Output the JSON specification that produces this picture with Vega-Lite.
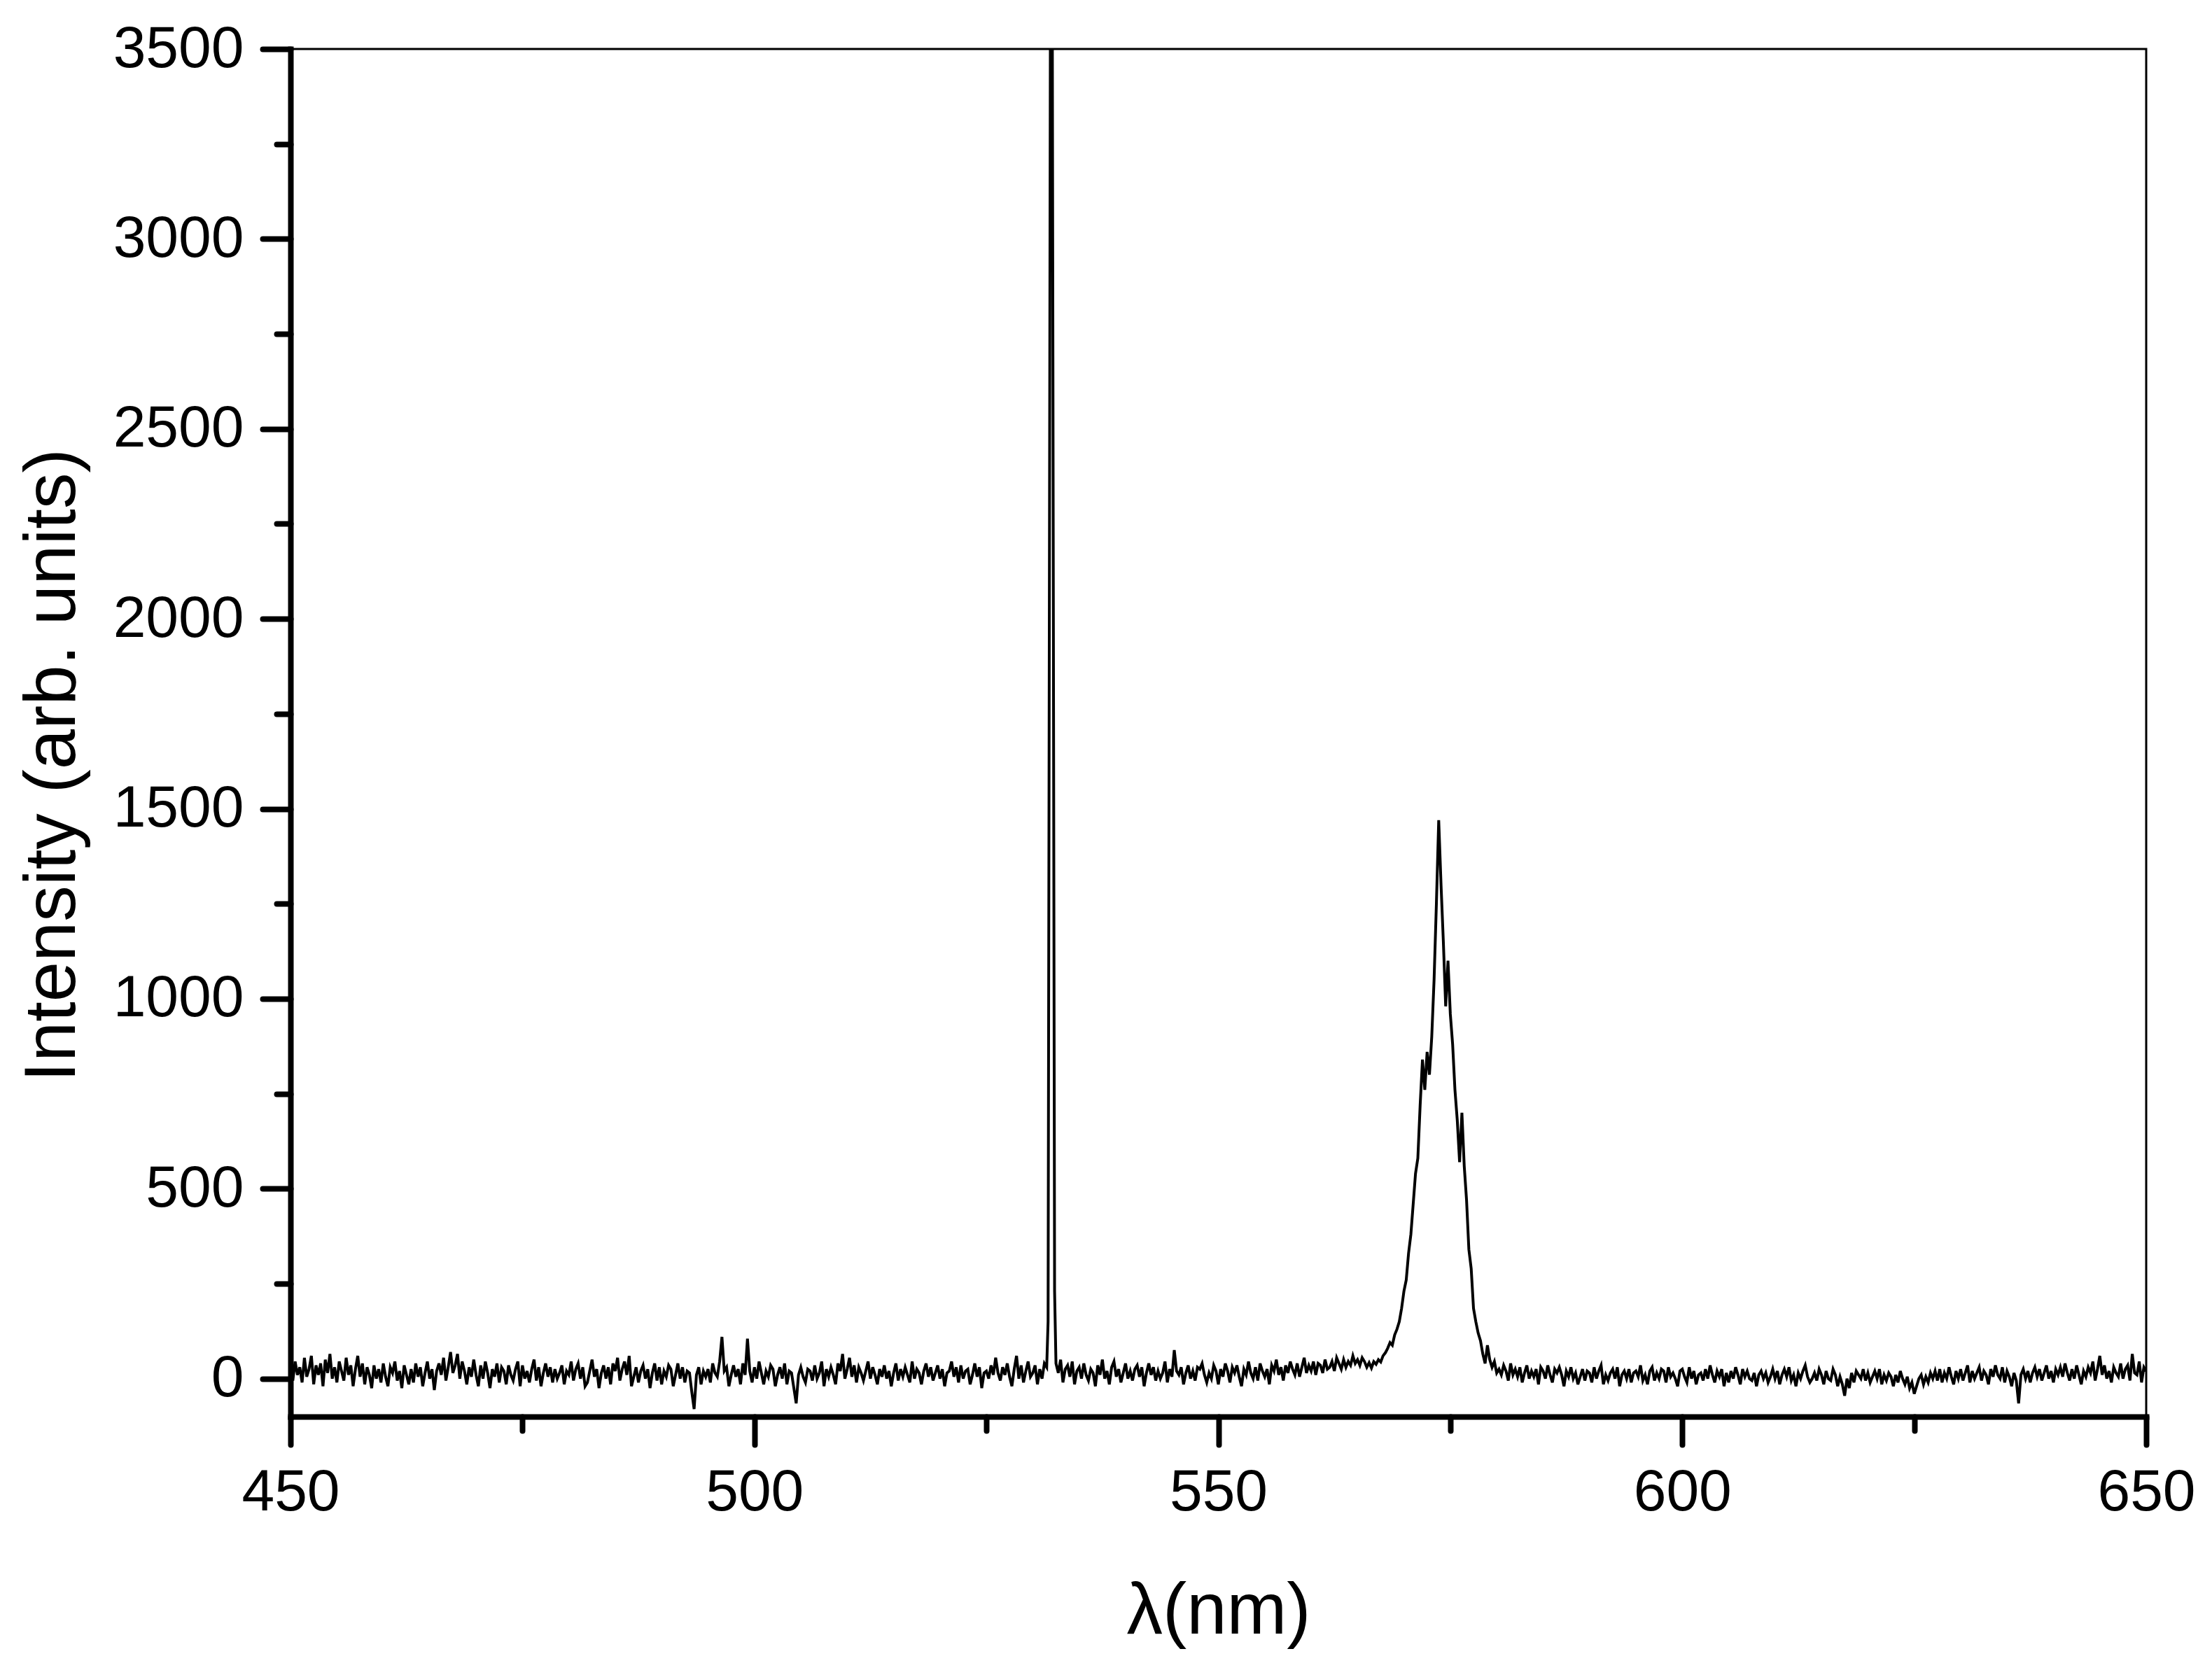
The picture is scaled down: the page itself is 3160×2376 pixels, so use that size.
{
"$schema": "https://vega.github.io/schema/vega-lite/v6.json",
"width": 2651, "height": 1954,
"autosize": "none",
"padding": {"left": 415, "top": 70, "right": 94, "bottom": 352},
"background": "white",
"config": {"view": {"stroke": "black", "strokeWidth": 3}},
"data": {"values": [
{"x":450,"y":20},{"x":450.25,"y":-5},{"x":450.5,"y":45},{"x":450.75,"y":10},
{"x":451,"y":30},{"x":451.25,"y":-10},{"x":451.5,"y":55},{"x":451.75,"y":5},
{"x":452,"y":25},{"x":452.25,"y":60},{"x":452.5,"y":-15},{"x":452.75,"y":35},
{"x":453,"y":10},{"x":453.25,"y":40},{"x":453.5,"y":-20},{"x":453.75,"y":50},
{"x":454,"y":15},{"x":454.25,"y":65},{"x":454.5,"y":0},{"x":454.75,"y":30},
{"x":455,"y":-10},{"x":455.25,"y":45},{"x":455.5,"y":20},{"x":455.75,"y":-5},
{"x":456,"y":55},{"x":456.25,"y":10},{"x":456.5,"y":35},{"x":456.75,"y":-20},
{"x":457,"y":25},{"x":457.25,"y":60},{"x":457.5,"y":5},{"x":457.75,"y":40},
{"x":458,"y":-15},{"x":458.25,"y":30},{"x":458.5,"y":10},{"x":458.75,"y":-25},
{"x":459,"y":35},{"x":459.25,"y":0},{"x":459.5,"y":25},{"x":459.75,"y":-10},
{"x":460,"y":40},{"x":460.25,"y":5},{"x":460.5,"y":-20},{"x":460.75,"y":30},
{"x":461,"y":15},{"x":461.25,"y":45},{"x":461.5,"y":-5},{"x":461.75,"y":20},
{"x":462,"y":-25},{"x":462.25,"y":35},{"x":462.5,"y":10},{"x":462.75,"y":-15},
{"x":463,"y":25},{"x":463.25,"y":-10},{"x":463.5,"y":40},{"x":463.75,"y":5},
{"x":464,"y":30},{"x":464.25,"y":-20},{"x":464.5,"y":15},{"x":464.75,"y":45},
{"x":465,"y":0},{"x":465.25,"y":25},{"x":465.5,"y":-30},{"x":465.75,"y":20},
{"x":466,"y":40},{"x":466.25,"y":10},{"x":466.5,"y":55},{"x":466.75,"y":-5},
{"x":467,"y":30},{"x":467.25,"y":70},{"x":467.5,"y":15},{"x":467.75,"y":35},
{"x":468,"y":65},{"x":468.25,"y":0},{"x":468.5,"y":45},{"x":468.75,"y":20},
{"x":469,"y":-15},{"x":469.25,"y":30},{"x":469.5,"y":5},{"x":469.75,"y":50},
{"x":470,"y":10},{"x":470.25,"y":-20},{"x":470.5,"y":35},{"x":470.75,"y":0},
{"x":471,"y":45},{"x":471.25,"y":15},{"x":471.5,"y":-25},{"x":471.75,"y":25},
{"x":472,"y":5},{"x":472.25,"y":40},{"x":472.5,"y":-10},{"x":472.75,"y":30},
{"x":473,"y":20},{"x":473.25,"y":-15},{"x":473.5,"y":35},{"x":473.75,"y":10},
{"x":474,"y":-5},{"x":474.25,"y":25},{"x":474.5,"y":45},{"x":474.75,"y":-20},
{"x":475,"y":35},{"x":475.25,"y":0},{"x":475.5,"y":20},{"x":475.75,"y":-10},
{"x":476,"y":25},{"x":476.25,"y":50},{"x":476.5,"y":-5},{"x":476.75,"y":30},
{"x":477,"y":-20},{"x":477.25,"y":15},{"x":477.5,"y":40},{"x":477.75,"y":5},
{"x":478,"y":30},{"x":478.25,"y":-10},{"x":478.5,"y":25},{"x":478.75,"y":0},
{"x":479,"y":15},{"x":479.25,"y":35},{"x":479.5,"y":-15},{"x":479.75,"y":20},
{"x":480,"y":10},{"x":480.25,"y":45},{"x":480.5,"y":-5},{"x":480.75,"y":25},
{"x":481,"y":40},{"x":481.25,"y":0},{"x":481.5,"y":30},{"x":481.75,"y":-20},
{"x":482,"y":-10},{"x":482.25,"y":20},{"x":482.5,"y":50},{"x":482.75,"y":5},
{"x":483,"y":25},{"x":483.25,"y":-25},{"x":483.5,"y":15},{"x":483.75,"y":35},
{"x":484,"y":0},{"x":484.25,"y":30},{"x":484.5,"y":-15},{"x":484.75,"y":40},
{"x":485,"y":20},{"x":485.25,"y":55},{"x":485.5,"y":-5},{"x":485.75,"y":25},
{"x":486,"y":45},{"x":486.25,"y":10},{"x":486.5,"y":60},{"x":486.75,"y":-20},
{"x":487,"y":5},{"x":487.25,"y":30},{"x":487.5,"y":-10},{"x":487.75,"y":20},
{"x":488,"y":35},{"x":488.25,"y":0},{"x":488.5,"y":25},{"x":488.75,"y":-25},
{"x":489,"y":15},{"x":489.25,"y":40},{"x":489.5,"y":-5},{"x":489.75,"y":30},
{"x":490,"y":-15},{"x":490.25,"y":20},{"x":490.5,"y":5},{"x":490.75,"y":35},
{"x":491,"y":25},{"x":491.25,"y":-20},{"x":491.5,"y":10},{"x":491.75,"y":40},
{"x":492,"y":0},{"x":492.25,"y":30},{"x":492.5,"y":-10},{"x":492.75,"y":20},
{"x":493,"y":15},{"x":493.25,"y":-35},{"x":493.5,"y":-80},{"x":493.75,"y":10},
{"x":494,"y":30},{"x":494.25,"y":-15},{"x":494.5,"y":20},{"x":494.75,"y":5},
{"x":495,"y":25},{"x":495.25,"y":-10},{"x":495.5,"y":40},{"x":495.75,"y":15},
{"x":496,"y":5},{"x":496.25,"y":45},{"x":496.5,"y":110},{"x":496.75,"y":20},
{"x":497,"y":30},{"x":497.25,"y":-20},{"x":497.5,"y":10},{"x":497.75,"y":35},
{"x":498,"y":5},{"x":498.25,"y":25},{"x":498.5,"y":-15},{"x":498.75,"y":40},
{"x":499,"y":10},{"x":499.25,"y":105},{"x":499.5,"y":20},{"x":499.75,"y":-10},
{"x":500,"y":30},{"x":500.25,"y":0},{"x":500.5,"y":45},{"x":500.75,"y":15},
{"x":501,"y":-15},{"x":501.25,"y":20},{"x":501.5,"y":5},{"x":501.75,"y":35},
{"x":502,"y":25},{"x":502.25,"y":-20},{"x":502.5,"y":10},{"x":502.75,"y":30},
{"x":503,"y":0},{"x":503.25,"y":40},{"x":503.5,"y":-15},{"x":503.75,"y":20},
{"x":504,"y":15},{"x":504.25,"y":-25},{"x":504.5,"y":-65},{"x":504.75,"y":10},
{"x":505,"y":30},{"x":505.25,"y":5},{"x":505.5,"y":-10},{"x":505.75,"y":25},
{"x":506,"y":20},{"x":506.25,"y":-5},{"x":506.5,"y":35},{"x":506.75,"y":0},
{"x":507,"y":15},{"x":507.25,"y":45},{"x":507.5,"y":-20},{"x":507.75,"y":25},
{"x":508,"y":5},{"x":508.25,"y":30},{"x":508.5,"y":10},{"x":508.75,"y":-15},
{"x":509,"y":40},{"x":509.25,"y":20},{"x":509.5,"y":65},{"x":509.75,"y":0},
{"x":510,"y":25},{"x":510.25,"y":55},{"x":510.5,"y":5},{"x":510.75,"y":35},
{"x":511,"y":-10},{"x":511.25,"y":30},{"x":511.5,"y":15},{"x":511.75,"y":-5},
{"x":512,"y":20},{"x":512.25,"y":45},{"x":512.5,"y":0},{"x":512.75,"y":30},
{"x":513,"y":10},{"x":513.25,"y":-15},{"x":513.5,"y":25},{"x":513.75,"y":5},
{"x":514,"y":35},{"x":514.25,"y":0},{"x":514.5,"y":20},{"x":514.75,"y":-20},
{"x":515,"y":15},{"x":515.25,"y":40},{"x":515.5,"y":-5},{"x":515.75,"y":25},
{"x":516,"y":5},{"x":516.25,"y":30},{"x":516.5,"y":10},{"x":516.75,"y":-10},
{"x":517,"y":45},{"x":517.25,"y":0},{"x":517.5,"y":25},{"x":517.75,"y":15},
{"x":518,"y":-15},{"x":518.25,"y":20},{"x":518.5,"y":40},{"x":518.75,"y":5},
{"x":519,"y":30},{"x":519.25,"y":-5},{"x":519.5,"y":15},{"x":519.75,"y":35},
{"x":520,"y":0},{"x":520.25,"y":25},{"x":520.5,"y":-20},{"x":520.75,"y":15},
{"x":521,"y":20},{"x":521.25,"y":45},{"x":521.5,"y":5},{"x":521.75,"y":30},
{"x":522,"y":-10},{"x":522.25,"y":35},{"x":522.5,"y":0},{"x":522.75,"y":20},
{"x":523,"y":25},{"x":523.25,"y":-15},{"x":523.5,"y":10},{"x":523.75,"y":40},
{"x":524,"y":5},{"x":524.25,"y":30},{"x":524.5,"y":-25},{"x":524.75,"y":15},
{"x":525,"y":20},{"x":525.25,"y":0},{"x":525.5,"y":35},{"x":525.75,"y":10},
{"x":526,"y":55},{"x":526.25,"y":15},{"x":526.5,"y":-5},{"x":526.75,"y":30},
{"x":527,"y":10},{"x":527.25,"y":40},{"x":527.5,"y":5},{"x":527.75,"y":-20},
{"x":528,"y":25},{"x":528.25,"y":60},{"x":528.5,"y":0},{"x":528.75,"y":35},
{"x":529,"y":-10},{"x":529.25,"y":20},{"x":529.5,"y":45},{"x":529.75,"y":5},
{"x":530,"y":15},{"x":530.25,"y":35},{"x":530.5,"y":-15},{"x":530.75,"y":25},
{"x":531,"y":0},{"x":531.25,"y":40},{"x":531.5,"y":30},{"x":531.65,"y":150},
{"x":532,"y":5000},{"x":532.35,"y":230},{"x":532.5,"y":40},{"x":532.75,"y":15},
{"x":533,"y":50},{"x":533.25,"y":-10},{"x":533.5,"y":25},{"x":533.75,"y":35},
{"x":534,"y":5},{"x":534.25,"y":45},{"x":534.5,"y":-15},{"x":534.75,"y":20},
{"x":535,"y":30},{"x":535.25,"y":0},{"x":535.5,"y":40},{"x":535.75,"y":10},
{"x":536,"y":-5},{"x":536.25,"y":25},{"x":536.5,"y":15},{"x":536.75,"y":-20},
{"x":537,"y":35},{"x":537.25,"y":10},{"x":537.5,"y":50},{"x":537.75,"y":0},
{"x":538,"y":20},{"x":538.25,"y":-15},{"x":538.5,"y":30},{"x":538.75,"y":45},
{"x":539,"y":5},{"x":539.25,"y":25},{"x":539.5,"y":-10},{"x":539.75,"y":15},
{"x":540,"y":40},{"x":540.25,"y":0},{"x":540.5,"y":20},{"x":540.75,"y":-5},
{"x":541,"y":25},{"x":541.25,"y":35},{"x":541.5,"y":5},{"x":541.75,"y":30},
{"x":542,"y":-20},{"x":542.25,"y":15},{"x":542.5,"y":40},{"x":542.75,"y":10},
{"x":543,"y":30},{"x":543.25,"y":-5},{"x":543.5,"y":20},{"x":543.75,"y":0},
{"x":544,"y":15},{"x":544.25,"y":45},{"x":544.5,"y":-10},{"x":544.75,"y":25},
{"x":545,"y":5},{"x":545.25,"y":75},{"x":545.5,"y":20},{"x":545.75,"y":10},
{"x":546,"y":30},{"x":546.25,"y":-15},{"x":546.5,"y":15},{"x":546.75,"y":35},
{"x":547,"y":0},{"x":547.25,"y":20},{"x":547.5,"y":-5},{"x":547.75,"y":30},
{"x":548,"y":25},{"x":548.25,"y":40},{"x":548.5,"y":10},{"x":548.75,"y":-10},
{"x":549,"y":15},{"x":549.25,"y":0},{"x":549.5,"y":35},{"x":549.75,"y":20},
{"x":550,"y":-15},{"x":550.25,"y":25},{"x":550.5,"y":5},{"x":550.75,"y":40},
{"x":551,"y":20},{"x":551.25,"y":-10},{"x":551.5,"y":30},{"x":551.75,"y":15},
{"x":552,"y":35},{"x":552.25,"y":5},{"x":552.5,"y":-20},{"x":552.75,"y":25},
{"x":553,"y":10},{"x":553.25,"y":45},{"x":553.5,"y":15},{"x":553.75,"y":0},
{"x":554,"y":30},{"x":554.25,"y":-5},{"x":554.5,"y":40},{"x":554.75,"y":20},
{"x":555,"y":5},{"x":555.25,"y":25},{"x":555.5,"y":-15},{"x":555.75,"y":35},
{"x":556,"y":20},{"x":556.25,"y":50},{"x":556.5,"y":10},{"x":556.75,"y":30},
{"x":557,"y":-5},{"x":557.25,"y":35},{"x":557.5,"y":15},{"x":557.75,"y":45},
{"x":558,"y":25},{"x":558.25,"y":10},{"x":558.5,"y":40},{"x":558.75,"y":5},
{"x":559,"y":30},{"x":559.25,"y":55},{"x":559.5,"y":15},{"x":559.75,"y":35},
{"x":560,"y":20},{"x":560.25,"y":45},{"x":560.5,"y":10},{"x":560.75,"y":40},
{"x":561,"y":35},{"x":561.25,"y":15},{"x":561.5,"y":50},{"x":561.75,"y":25},
{"x":562,"y":30},{"x":562.25,"y":45},{"x":562.5,"y":20},{"x":562.75,"y":55},
{"x":563,"y":40},{"x":563.25,"y":25},{"x":563.5,"y":50},{"x":563.75,"y":30},
{"x":564,"y":45},{"x":564.25,"y":35},{"x":564.5,"y":60},{"x":564.75,"y":40},
{"x":565,"y":50},{"x":565.25,"y":35},{"x":565.5,"y":55},{"x":565.75,"y":45},
{"x":566,"y":30},{"x":566.25,"y":42},{"x":566.5,"y":28},{"x":566.75,"y":45},
{"x":567,"y":38},{"x":567.25,"y":50},{"x":567.5,"y":44},{"x":567.75,"y":60},
{"x":568,"y":68},{"x":568.25,"y":80},{"x":568.5,"y":95},{"x":568.75,"y":88},
{"x":569,"y":115},{"x":569.25,"y":130},{"x":569.5,"y":150},{"x":569.75,"y":185},
{"x":570,"y":230},{"x":570.25,"y":260},{"x":570.5,"y":330},{"x":570.75,"y":380},
{"x":571,"y":460},{"x":571.25,"y":540},{"x":571.5,"y":580},{"x":571.75,"y":720},
{"x":572,"y":840},{"x":572.25,"y":760},{"x":572.5,"y":860},{"x":572.75,"y":800},
{"x":573,"y":900},{"x":573.25,"y":1050},{"x":573.5,"y":1250},{"x":573.75,"y":1470},
{"x":574,"y":1300},{"x":574.25,"y":1150},{"x":574.5,"y":980},{"x":574.75,"y":1100},
{"x":575,"y":960},{"x":575.25,"y":880},{"x":575.5,"y":760},{"x":575.75,"y":680},
{"x":576,"y":570},{"x":576.25,"y":700},{"x":576.5,"y":560},{"x":576.75,"y":470},
{"x":577,"y":340},{"x":577.25,"y":290},{"x":577.5,"y":185},{"x":577.75,"y":150},
{"x":578,"y":120},{"x":578.25,"y":100},{"x":578.5,"y":65},{"x":578.75,"y":40},
{"x":579,"y":88},{"x":579.25,"y":50},{"x":579.5,"y":30},{"x":579.75,"y":45},
{"x":580,"y":15},{"x":580.25,"y":25},{"x":580.5,"y":10},{"x":580.75,"y":35},
{"x":581,"y":20},{"x":581.25,"y":-5},{"x":581.5,"y":40},{"x":581.75,"y":10},
{"x":582,"y":25},{"x":582.25,"y":5},{"x":582.5,"y":30},{"x":582.75,"y":-10},
{"x":583,"y":15},{"x":583.25,"y":35},{"x":583.5,"y":0},{"x":583.75,"y":20},
{"x":584,"y":5},{"x":584.25,"y":25},{"x":584.5,"y":-15},{"x":584.75,"y":30},
{"x":585,"y":20},{"x":585.25,"y":0},{"x":585.5,"y":35},{"x":585.75,"y":10},
{"x":586,"y":-10},{"x":586.25,"y":25},{"x":586.5,"y":15},{"x":586.75,"y":30},
{"x":587,"y":10},{"x":587.25,"y":-20},{"x":587.5,"y":20},{"x":587.75,"y":5},
{"x":588,"y":30},{"x":588.25,"y":0},{"x":588.5,"y":15},{"x":588.75,"y":-15},
{"x":589,"y":5},{"x":589.25,"y":25},{"x":589.5,"y":-5},{"x":589.75,"y":20},
{"x":590,"y":15},{"x":590.25,"y":-10},{"x":590.5,"y":30},{"x":590.75,"y":0},
{"x":591,"y":20},{"x":591.25,"y":35},{"x":591.5,"y":-15},{"x":591.75,"y":10},
{"x":592,"y":-5},{"x":592.25,"y":15},{"x":592.5,"y":25},{"x":592.75,"y":0},
{"x":593,"y":30},{"x":593.25,"y":-20},{"x":593.5,"y":10},{"x":593.75,"y":20},
{"x":594,"y":0},{"x":594.25,"y":25},{"x":594.5,"y":-10},{"x":594.75,"y":15},
{"x":595,"y":20},{"x":595.25,"y":5},{"x":595.5,"y":35},{"x":595.75,"y":-5},
{"x":596,"y":10},{"x":596.25,"y":-15},{"x":596.5,"y":20},{"x":596.75,"y":30},
{"x":597,"y":-5},{"x":597.25,"y":15},{"x":597.5,"y":0},{"x":597.75,"y":25},
{"x":598,"y":20},{"x":598.25,"y":-10},{"x":598.5,"y":30},{"x":598.75,"y":5},
{"x":599,"y":15},{"x":599.25,"y":0},{"x":599.5,"y":-20},{"x":599.75,"y":20},
{"x":600,"y":25},{"x":600.25,"y":5},{"x":600.5,"y":-10},{"x":600.75,"y":30},
{"x":601,"y":0},{"x":601.25,"y":20},{"x":601.5,"y":-15},{"x":601.75,"y":10},
{"x":602,"y":15},{"x":602.25,"y":-5},{"x":602.5,"y":25},{"x":602.75,"y":0},
{"x":603,"y":35},{"x":603.25,"y":10},{"x":603.5,"y":-10},{"x":603.75,"y":20},
{"x":604,"y":5},{"x":604.25,"y":25},{"x":604.5,"y":-20},{"x":604.75,"y":15},
{"x":605,"y":-10},{"x":605.25,"y":20},{"x":605.5,"y":0},{"x":605.75,"y":30},
{"x":606,"y":10},{"x":606.25,"y":-15},{"x":606.5,"y":25},{"x":606.75,"y":5},
{"x":607,"y":20},{"x":607.25,"y":0},{"x":607.5,"y":-5},{"x":607.75,"y":15},
{"x":608,"y":-20},{"x":608.25,"y":10},{"x":608.5,"y":20},{"x":608.75,"y":0},
{"x":609,"y":15},{"x":609.25,"y":-10},{"x":609.5,"y":5},{"x":609.75,"y":25},
{"x":610,"y":0},{"x":610.25,"y":20},{"x":610.5,"y":-15},{"x":610.75,"y":10},
{"x":611,"y":25},{"x":611.25,"y":5},{"x":611.5,"y":30},{"x":611.75,"y":-5},
{"x":612,"y":10},{"x":612.25,"y":-20},{"x":612.5,"y":15},{"x":612.75,"y":0},
{"x":613,"y":20},{"x":613.25,"y":35},{"x":613.5,"y":5},{"x":613.75,"y":-10},
{"x":614,"y":0},{"x":614.25,"y":15},{"x":614.5,"y":-5},{"x":614.75,"y":25},
{"x":615,"y":10},{"x":615.25,"y":-15},{"x":615.5,"y":20},{"x":615.75,"y":0},
{"x":616,"y":-5},{"x":616.25,"y":25},{"x":616.5,"y":10},{"x":616.75,"y":-20},
{"x":617,"y":5},{"x":617.25,"y":-15},{"x":617.5,"y":-45},{"x":617.75,"y":0},
{"x":618,"y":-25},{"x":618.25,"y":15},{"x":618.5,"y":-10},{"x":618.75,"y":20},
{"x":619,"y":10},{"x":619.25,"y":0},{"x":619.5,"y":25},{"x":619.75,"y":-5},
{"x":620,"y":15},{"x":620.25,"y":-10},{"x":620.5,"y":5},{"x":620.75,"y":20},
{"x":621,"y":0},{"x":621.25,"y":25},{"x":621.5,"y":-15},{"x":621.75,"y":10},
{"x":622,"y":-5},{"x":622.25,"y":15},{"x":622.5,"y":5},{"x":622.75,"y":-20},
{"x":623,"y":10},{"x":623.25,"y":-10},{"x":623.5,"y":20},{"x":623.75,"y":0},
{"x":624,"y":-15},{"x":624.25,"y":5},{"x":624.5,"y":-25},{"x":624.75,"y":-10},
{"x":625,"y":-40},{"x":625.25,"y":-20},{"x":625.5,"y":0},{"x":625.75,"y":10},
{"x":626,"y":-15},{"x":626.25,"y":5},{"x":626.5,"y":-10},{"x":626.75,"y":15},
{"x":627,"y":0},{"x":627.25,"y":20},{"x":627.5,"y":-5},{"x":627.75,"y":25},
{"x":628,"y":-10},{"x":628.25,"y":15},{"x":628.5,"y":0},{"x":628.75,"y":30},
{"x":629,"y":5},{"x":629.25,"y":-15},{"x":629.5,"y":20},{"x":629.75,"y":0},
{"x":630,"y":25},{"x":630.25,"y":-5},{"x":630.5,"y":15},{"x":630.75,"y":35},
{"x":631,"y":-10},{"x":631.25,"y":20},{"x":631.5,"y":0},{"x":631.75,"y":15},
{"x":632,"y":30},{"x":632.25,"y":-5},{"x":632.5,"y":20},{"x":632.75,"y":10},
{"x":633,"y":-15},{"x":633.25,"y":25},{"x":633.5,"y":5},{"x":633.75,"y":35},
{"x":634,"y":10},{"x":634.25,"y":0},{"x":634.5,"y":30},{"x":634.75,"y":-10},
{"x":635,"y":20},{"x":635.25,"y":5},{"x":635.5,"y":-20},{"x":635.75,"y":15},
{"x":636,"y":-5},{"x":636.25,"y":-65},{"x":636.5,"y":10},{"x":636.75,"y":25},
{"x":637,"y":0},{"x":637.25,"y":20},{"x":637.5,"y":-10},{"x":637.75,"y":15},
{"x":638,"y":30},{"x":638.25,"y":5},{"x":638.5,"y":25},{"x":638.75,"y":-5},
{"x":639,"y":15},{"x":639.25,"y":35},{"x":639.5,"y":0},{"x":639.75,"y":20},
{"x":640,"y":-10},{"x":640.25,"y":25},{"x":640.5,"y":10},{"x":640.75,"y":30},
{"x":641,"y":5},{"x":641.25,"y":40},{"x":641.5,"y":15},{"x":641.75,"y":-5},
{"x":642,"y":25},{"x":642.25,"y":0},{"x":642.5,"y":35},{"x":642.75,"y":10},
{"x":643,"y":-15},{"x":643.25,"y":20},{"x":643.5,"y":5},{"x":643.75,"y":30},
{"x":644,"y":15},{"x":644.25,"y":45},{"x":644.5,"y":-5},{"x":644.75,"y":25},
{"x":645,"y":60},{"x":645.25,"y":10},{"x":645.5,"y":35},{"x":645.75,"y":0},
{"x":646,"y":20},{"x":646.25,"y":-10},{"x":646.5,"y":30},{"x":646.75,"y":15},
{"x":647,"y":5},{"x":647.25,"y":40},{"x":647.5,"y":0},{"x":647.75,"y":25},
{"x":648,"y":35},{"x":648.25,"y":-5},{"x":648.5,"y":65},{"x":648.75,"y":15},
{"x":649,"y":10},{"x":649.25,"y":45},{"x":649.5,"y":-10},{"x":649.75,"y":30},
{"x":650,"y":20}
]},
"layer": [
{
"mark": {"type": "line", "color": "black", "strokeWidth": 4, "clip": true, "strokeJoin": "miter"},
"encoding": {
"x": {"field": "x", "type": "quantitative",
"scale": {"domain": [450, 650], "nice": false, "zero": false},
"axis": {"orient": "bottom", "values": [450, 500, 550, 600, 650], "format": "d", "grid": false,
"domainColor": "black", "domainWidth": 8, "domainCap": "square",
"tickColor": "black", "tickWidth": 8, "tickSize": 40, "tickCap": "round",
"labelFont": "Liberation Sans", "labelFontSize": 84, "labelColor": "black", "labelPadding": 27, "labelFlush": false, "labelLimit": 500, "labelOverlap": false,
"title": "λ(nm)", "titleFont": "Liberation Sans", "titleFontSize": 103, "titleFontWeight": "normal", "titleColor": "black",
"titleBaseline": "alphabetic", "titleY": 309}},
"y": {"field": "y", "type": "quantitative",
"scale": {"domain": [-100, 3500], "nice": false, "zero": false},
"axis": {"orient": "left", "values": [0, 500, 1000, 1500, 2000, 2500, 3000, 3500], "format": "d", "grid": false,
"domainColor": "black", "domainWidth": 8, "domainCap": "square",
"tickColor": "black", "tickWidth": 8, "tickSize": 40, "tickCap": "round",
"labelFont": "Liberation Sans", "labelFontSize": 84, "labelColor": "black", "labelPadding": 27, "labelFlush": false, "labelLimit": 500, "labelOverlap": false,
"title": "Intensity (arb. units)", "titleFont": "Liberation Sans", "titleFontSize": 103, "titleFontWeight": "normal", "titleColor": "black",
"titleAngle": -90, "titleAlign": "center", "titleBaseline": "alphabetic", "titleX": -309, "titleY": 1023, "titleLimit": 3000}}
}
},
{
"mark": {"type": "line", "opacity": 0, "clip": true},
"encoding": {
"x": {"field": "x", "type": "quantitative",
"axis": {"orient": "bottom", "values": [475, 525, 575, 625], "grid": false, "domain": false, "labels": false, "title": null,
"tickColor": "black", "tickWidth": 8, "tickSize": 20, "tickCap": "round"}},
"y": {"field": "y", "type": "quantitative",
"axis": {"orient": "left", "values": [250, 750, 1250, 1750, 2250, 2750, 3250], "grid": false, "domain": false, "labels": false, "title": null,
"tickColor": "black", "tickWidth": 8, "tickSize": 20, "tickCap": "round"}}
}
}
],
"resolve": {"axis": {"x": "independent", "y": "independent"}}
}
